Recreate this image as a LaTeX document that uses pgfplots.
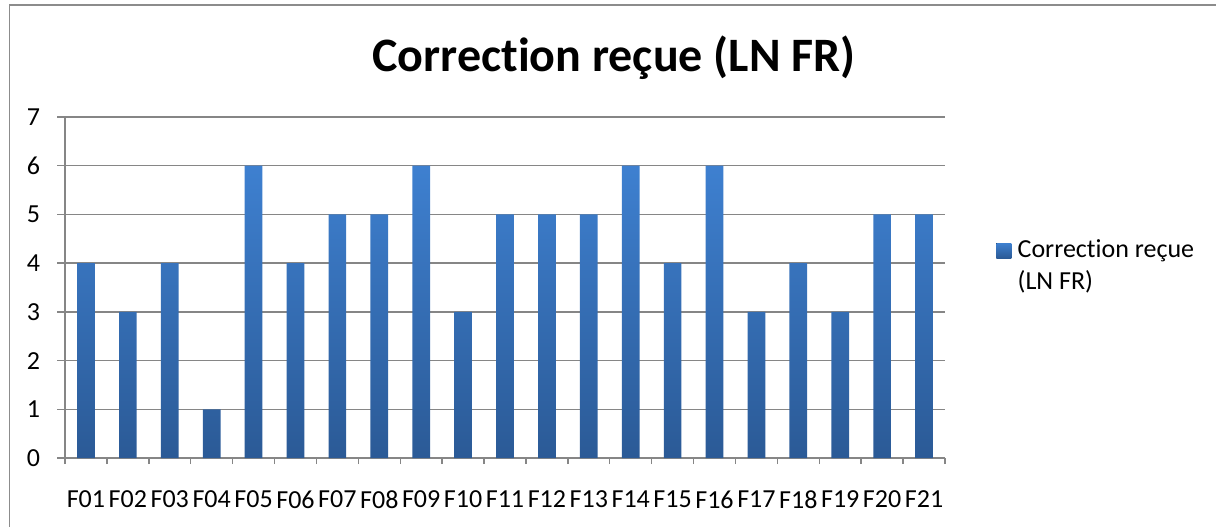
\documentclass[border=0pt]{standalone}
\usepackage{pgfplots}
\pgfplotsset{compat=1.18}
\usepackage{fontspec}
\setmainfont{Carlito}[Ligatures=NoCommon]
\definecolor{bartop}{RGB}{62,128,208}
\definecolor{barbot}{RGB}{43,90,150}
\definecolor{gridc}{RGB}{134,134,134}
\definecolor{framec}{RGB}{140,140,140}
\begin{document}
\begin{tikzpicture}
\useasboundingbox (-32.5pt,-34pt) rectangle (575.5pt,229pt);
\draw[framec, line width=0.8pt] (-27.75pt,-40pt) -- (-27.75pt,226.5pt) -- (580pt,226.5pt);
\node[font=\fontsize{24}{29}\selectfont\bfseries] at (274.5pt,200pt) {Correct\kern0pt ion reçue (LN FR)};
\begin{axis}[
  at={(0pt,0pt)}, anchor=south west,
  scale only axis, width=440pt, height=170.5pt,
  ybar, bar width=8.85pt,
  xmin=0.5, xmax=21.5, ymin=0, ymax=7,
  ytick={0,1,...,7},
  xtick={1,...,21},
  xticklabels={F01,F02,F03,F04,F05,F06,F07,F08,F09,F10,F11,F12,F13,F14,F15,F16,F17,F18,F19,F20,F21},
  minor xtick={0.5,1.5,...,21.5},
  axis lines*=left,
  axis line style={-, gridc, line width=0.7pt},
  ymajorgrids, grid style={gridc, line width=0.7pt},
  tick align=outside,
  major x tick style={draw=none},
  minor x tick style={gridc, line width=0.7pt},
  minor tick length=3pt,
  major y tick style={gridc, line width=0.7pt},
  major tick length=4pt,
  tick label style={font=\fontsize{13}{15.6}\selectfont},
  /pgf/number format/assume math mode=true,
  xticklabel style={yshift=-9pt},
  yticklabel style={xshift=-5pt},
  legend style={at={(1.051,0.563)}, anchor=west, draw=none, fill=none,
    font=\fontsize{13}{15.6}\selectfont, cells={align=left}},
  legend image code/.code={\fill[top color=bartop, bottom color=barbot] (0pt,4pt) rectangle (7.5pt,11.5pt); \path (8.7pt,8pt);},
]
\addplot[draw=none, top color=bartop, bottom color=barbot] coordinates {
(1,4) (2,3) (3,4) (4,1) (5,6) (6,4) (7,5) (8,5) (9,6) (10,3) (11,5)
(12,5) (13,5) (14,6) (15,4) (16,6) (17,3) (18,4) (19,3) (20,5) (21,5)};
\addlegendentry{Correct\kern0pt ion reçue\\(LN FR)}
\end{axis}
\end{tikzpicture}
\end{document}
